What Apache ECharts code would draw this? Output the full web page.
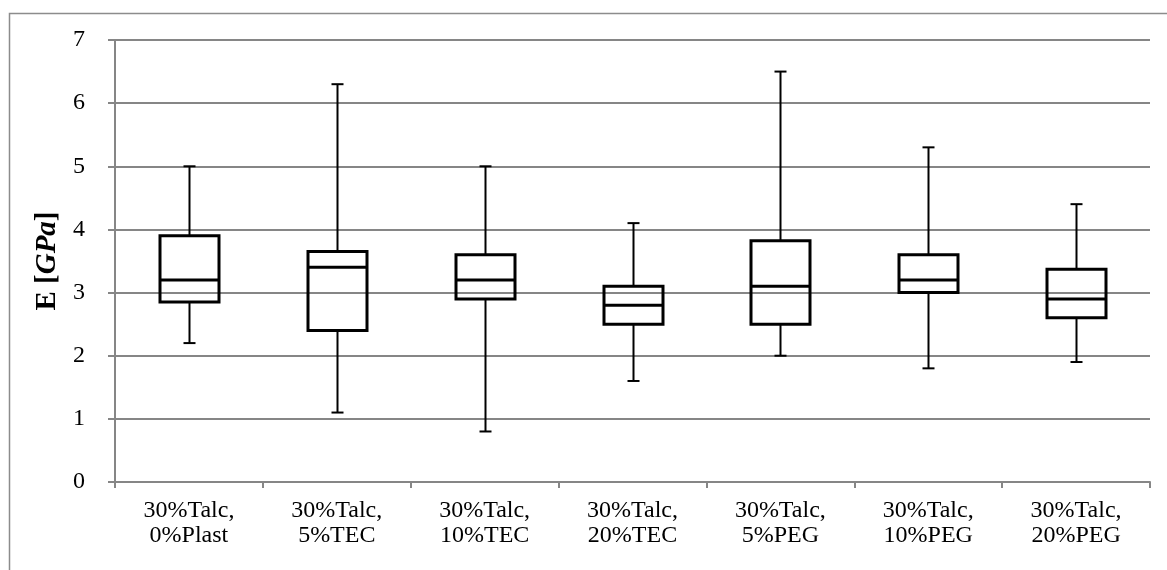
<!DOCTYPE html>
<html>
<head>
<meta charset="utf-8">
<script src="https://cdn.jsdelivr.net/npm/echarts@6/dist/echarts.min.js"></script>
<style>
  html, body { margin: 0; padding: 0; background: #fff; }
  #chart { width: 1167px; height: 570px; }
</style>
</head>
<body>
<div id="chart"></div>
<script>
// Young's modulus by formulation: five-number summaries per group
const categories = [
  '30%Talc,\n0%Plast',
  '30%Talc,\n5%TEC',
  '30%Talc,\n10%TEC',
  '30%Talc,\n20%TEC',
  '30%Talc,\n5%PEG',
  '30%Talc,\n10%PEG',
  '30%Talc,\n20%PEG'
];
const minValues    = [2.2, 1.1, 0.8, 1.6, 2.0, 1.8, 1.9];
const q1Values     = [2.85, 2.4, 2.9, 2.5, 2.5, 3.0, 2.6];
const medianValues = [3.2, 3.4, 3.2, 2.8, 3.1, 3.2, 2.9];
const q3Values     = [3.9, 3.65, 3.6, 3.1, 3.82, 3.6, 3.37];
const maxValues    = [5.0, 6.3, 5.0, 4.1, 6.5, 5.3, 4.4];
const yTicks = [0, 1, 2, 3, 4, 5, 6, 7];

const rows = categories.map((c, i) => [i, minValues[i], q1Values[i], medianValues[i], q3Values[i], maxValues[i]]);

const FONT = '"Liberation Serif", "DejaVu Serif", serif';
const BOX_W = 59;
const CAP_W = 12;

function renderBox(params, api) {
  const x = api.value(0);
  const pMin = api.coord([x, api.value(1)]);
  const pQ1 = api.coord([x, api.value(2)]);
  const pMed = api.coord([x, api.value(3)]);
  const pQ3 = api.coord([x, api.value(4)]);
  const pMax = api.coord([x, api.value(5)]);
  const cx = Math.round(pMin[0]) + 0.5;
  const stroke = { stroke: '#000', lineWidth: 2, fill: null };
  const half = BOX_W / 2;
  const cap = CAP_W / 2;
  return {
    type: 'group',
    children: [
      { type: 'line', shape: { x1: cx, y1: pQ3[1], x2: cx, y2: pMax[1] }, style: stroke },
      { type: 'line', shape: { x1: cx - cap, y1: pMax[1], x2: cx + cap, y2: pMax[1] }, style: stroke },
      { type: 'line', shape: { x1: cx, y1: pQ1[1], x2: cx, y2: pMin[1] }, style: stroke },
      { type: 'line', shape: { x1: cx - cap, y1: pMin[1], x2: cx + cap, y2: pMin[1] }, style: stroke },
      { type: 'rect', shape: { x: cx - half, y: pQ3[1], width: BOX_W, height: pQ1[1] - pQ3[1] },
        style: { stroke: '#000', lineWidth: 3, fill: 'rgba(255,255,255,0)' } },
      { type: 'line', shape: { x1: cx - half, y1: pMed[1], x2: cx + half, y2: pMed[1] },
        style: { stroke: '#000', lineWidth: 3 } }
    ]
  };
}

const chart = echarts.init(document.getElementById('chart'), null, { renderer: 'canvas' });
chart.setOption({
  backgroundColor: '#fff',
  animation: false,
  graphic: [{
    type: 'rect',
    left: 7, top: 11,
    shape: { width: 1180, height: 600 },
    style: { fill: null, stroke: '#8c8c8c', lineWidth: 1.5 },
    z: -1
  }],
  grid: { left: 115, top: 40, width: 1035, height: 442, containLabel: false },
  xAxis: {
    type: 'category',
    data: categories,
    boundaryGap: true,
    axisLine: { lineStyle: { color: '#868686', width: 2 } },
    axisTick: { show: true, length: 6, inside: false, alignWithLabel: false,
      lineStyle: { color: '#868686', width: 2 } },
    axisLabel: { fontFamily: FONT, fontSize: 24, color: '#000', lineHeight: 25, margin: 16, interval: 0 },
    splitLine: { show: false }
  },
  yAxis: {
    type: 'value',
    min: yTicks[0],
    max: yTicks[yTicks.length - 1],
    interval: 1,
    axisLine: { show: true, lineStyle: { color: '#868686', width: 2 } },
    axisTick: { show: true, length: 7, lineStyle: { color: '#868686', width: 2 } },
    axisLabel: { fontFamily: FONT, fontSize: 24, color: '#000', margin: 30 },
    splitLine: { show: true, lineStyle: { color: '#868686', width: 2 } },
    name: '{b|E [}{bi|GPa}{b|]}',
    nameLocation: 'middle',
    nameGap: 53,
    nameRotate: 90,
    nameTextStyle: {
      rich: {
        b: { fontFamily: FONT, fontSize: 29, fontWeight: 'bold', color: '#000' },
        bi: { fontFamily: FONT, fontSize: 29, fontWeight: 'bold', fontStyle: 'italic', color: '#000' }
      }
    }
  },
  series: [{
    type: 'custom',
    renderItem: renderBox,
    data: rows,
    encode: { x: 0, y: [1, 2, 3, 4, 5] },
    clip: false,
    z: 5
  }]
});
</script>
</body>
</html>
